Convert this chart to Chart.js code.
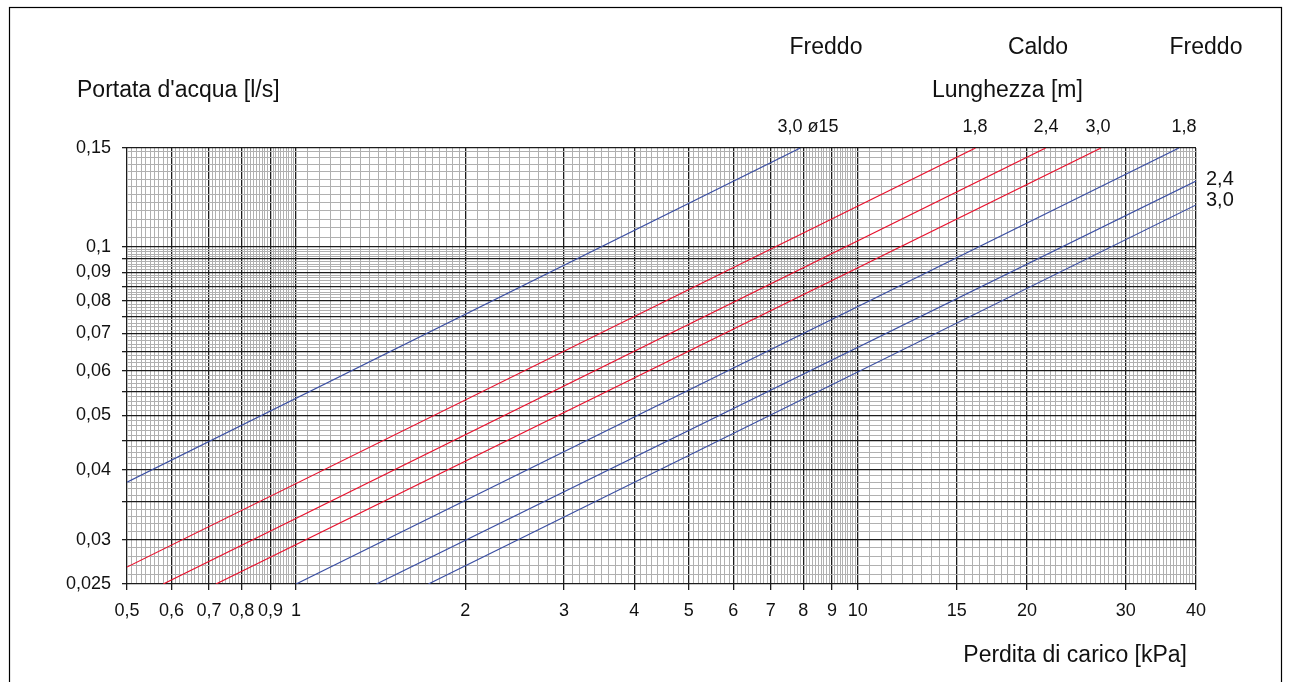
<!DOCTYPE html>
<html>
<head>
<meta charset="utf-8">
<script src="https://cdn.jsdelivr.net/npm/chart.js@4.4.1/dist/chart.umd.min.js"></script>
<style>
  html, body { margin: 0; padding: 0; background: #fff; }
  canvas { display: block; }
</style>
</head>
<body>
<canvas id="chart" width="1290" height="682"></canvas>
<script>
// Perdita di carico [kPa] vs Portata d'acqua [l/s] - log/log
var xLabelTicks = [0.5, 0.6, 0.7, 0.8, 0.9, 1, 2, 3, 4, 5, 6, 7, 8, 9, 10, 15, 20, 30, 40];
var yLabelTicks = [0.025, 0.03, 0.04, 0.05, 0.06, 0.07, 0.08, 0.09, 0.1, 0.15];
var yMajorLines = [0.025, 0.03, 0.035, 0.04, 0.045, 0.05, 0.055, 0.06, 0.065, 0.07,
                   0.075, 0.08, 0.085, 0.09, 0.095, 0.1, 0.15];
// [from, to, step] of the fine grid
var xMinorRanges = [[0.5, 1, 0.01], [1, 2, 0.05], [2, 10, 0.1], [10, 40, 0.5]];
var yMinorRanges = [[0.025, 0.1, 0.001], [0.1, 0.15, 0.004]];

// curves: start and end points
var curveNames = ['Freddo 3,0 ø15', 'Caldo 1,8', 'Caldo 2,4', 'Caldo 3,0', 'Freddo 1,8', 'Freddo 2,4', 'Freddo 3,0'];
var startDp = [0.5, 0.5, 0.58, 0.72, 1.0, 1.39, 1.72];
var startQ  = [0.038, 0.0268, 0.025, 0.025, 0.025, 0.025, 0.025];
var endDp   = [7.9, 16.2, 21.6, 27.1, 37.3, 40, 40];
var endQ    = [0.15, 0.15, 0.15, 0.15, 0.15, 0.131, 0.1187];
var curveColors = ['#3b4fa3', '#e8132e', '#e8132e', '#e8132e', '#3b4fa3', '#3b4fa3', '#3b4fa3'];

var FONT = "'Liberation Sans', Arial, sans-serif";

function r4(v) { return Math.round(v * 10000) / 10000; }
function has(list, v) {
  for (var i = 0; i < list.length; i++) if (Math.abs(list[i] - v) < 1e-6) return true;
  return false;
}
function buildGrid(ranges, extra) {
  var vals = extra.slice();
  ranges.forEach(function (r) {
    var n = Math.round((r[1] - r[0]) / r[2]);
    for (var i = 0; i <= n; i++) {
      var v = r4(r[0] + i * r[2]);
      if (v <= r[1] + 1e-9 && !has(vals, v)) vals.push(v);
    }
  });
  return vals.sort(function (a, b) { return a - b; });
}
var xGrid = buildGrid(xMinorRanges, xLabelTicks);
var yGrid = buildGrid(yMinorRanges, yMajorLines);

function comma(v) { return String(r4(v)).replace('.', ','); }

var datasets = curveNames.map(function (name, i) {
  return {
    label: name,
    data: [{x: startDp[i], y: startQ[i]}, {x: endDp[i], y: endQ[i]}],
    showLine: true,
    borderColor: curveColors[i],
    borderWidth: 1.2,
    pointRadius: 0,
    fill: false
  };
});

var textPlugin = {
  id: 'texts',
  beforeDraw: function (chart) {
    var c = chart.ctx;
    c.save();
    c.strokeStyle = '#000';
    c.lineWidth = 1.2;
    c.strokeRect(9.5, 7.5, 1272, 700);
    c.restore();
  },
  afterDraw: function (chart) {
    var c = chart.ctx;
    c.save();
    c.fillStyle = '#111';
    c.textBaseline = 'middle';
    c.font = '23px ' + FONT;
    c.textAlign = 'center';
    c.fillText('Freddo', 826, 48);
    c.fillText('Caldo', 1038, 48);
    c.fillText('Freddo', 1206, 48);
    c.textAlign = 'left';
    c.fillText("Portata d'acqua [l/s]", 77, 91);
    c.fillText('Lunghezza [m]', 932, 91);
    c.textAlign = 'right';
    c.fillText('Perdita di carico [kPa]', 1187, 656);
    c.font = '18px ' + FONT;
    c.textAlign = 'center';
    c.fillText('3,0 ø15', 808, 127);
    c.fillText('1,8', 975, 127);
    c.fillText('2,4', 1046, 127);
    c.fillText('3,0', 1098, 127);
    c.fillText('1,8', 1184, 127);
    c.font = '20px ' + FONT;
    c.textAlign = 'left';
    c.fillText('2,4', 1206, 179);
    c.fillText('3,0', 1206, 200);
    c.restore();
  }
};

new Chart(document.getElementById('chart'), {
  type: 'scatter',
  data: { datasets: datasets },
  plugins: [textPlugin],
  options: {
    responsive: false,
    animation: false,
    devicePixelRatio: 1,
    layout: { padding: { top: 148, right: 94, bottom: 0, left: 0 } },
    plugins: { legend: { display: false }, tooltip: { enabled: false } },
    scales: {
      x: {
        type: 'logarithmic',
        min: 0.5,
        max: 40,
        afterBuildTicks: function (s) { s.ticks = xGrid.map(function (v) { return {value: v}; }); },
        afterFit: function (s) { s.height = 98; },
        border: { display: false },
        grid: {
          color: function (ctx) { return has(xLabelTicks, ctx.tick.value) ? '#1c1c1c' : '#b0b0b0'; },
          lineWidth: function (ctx) { return has(xLabelTicks, ctx.tick.value) ? 1.3 : 1; },
          tickColor: function (ctx) { return has(xLabelTicks, ctx.tick.value) ? '#1c1c1c' : 'rgba(0,0,0,0)'; },
          tickLength: 6
        },
        ticks: {
          autoSkip: false,
          maxRotation: 0,
          padding: 10,
          color: '#111',
          font: { family: FONT, size: 18 },
          callback: function (v) { return has(xLabelTicks, v) ? comma(v) : ''; }
        }
      },
      y: {
        type: 'logarithmic',
        min: 0.025,
        max: 0.15,
        afterBuildTicks: function (s) { s.ticks = yGrid.map(function (v) { return {value: v}; }); },
        afterFit: function (s) { s.width = 127; },
        border: { display: false },
        grid: {
          color: function (ctx) { return has(yMajorLines, ctx.tick.value) ? '#1c1c1c' : '#b0b0b0'; },
          lineWidth: function (ctx) { return has(yMajorLines, ctx.tick.value) ? 1.3 : 1; },
          tickColor: function (ctx) { return has(yMajorLines, ctx.tick.value) ? '#1c1c1c' : 'rgba(0,0,0,0)'; },
          tickLength: 5
        },
        ticks: {
          autoSkip: false,
          padding: 11,
          color: '#111',
          font: { family: FONT, size: 18 },
          callback: function (v) { return has(yLabelTicks, v) ? comma(v) : ''; }
        }
      }
    }
  }
});
</script>
</body>
</html>
